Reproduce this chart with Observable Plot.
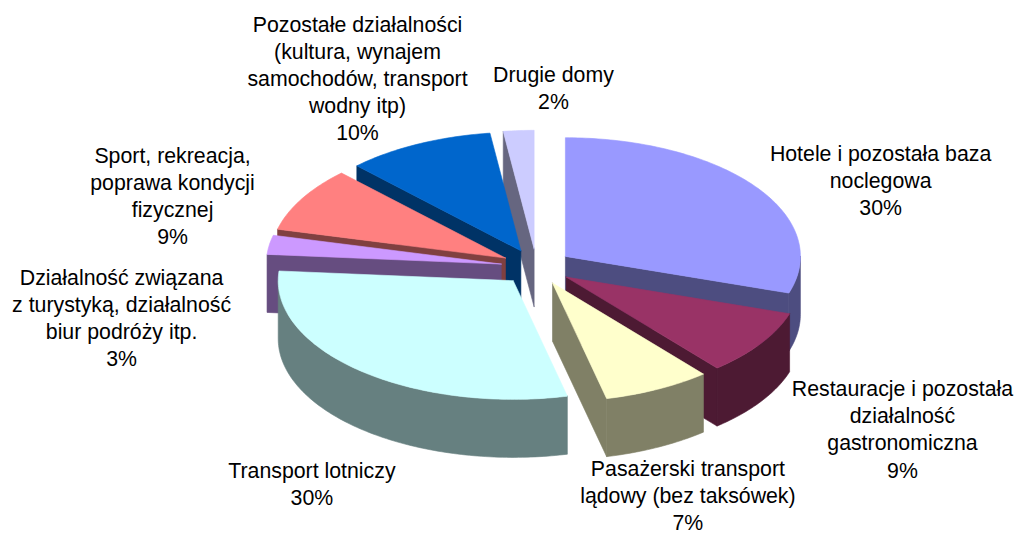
<!DOCTYPE html>
<html>
<head>
<meta charset="utf-8">
<script src="https://cdn.jsdelivr.net/npm/d3@7"></script>
<script src="https://cdn.jsdelivr.net/npm/@observablehq/plot@0.6"></script>
<style>html,body{margin:0;padding:0;background:#fff}svg{display:block}</style>
</head>
<body>
<div id="chart"></div>
<script>
const categories = ["Hotele","Restauracje","Pasazerski","Lotniczy","Dzialalnosc","Sport","Pozostale","Drugie"];
const shares = [30, 8.9, 7.4, 30, 2.6, 8.8, 10.2, 2.1];
const labels = [
  "Hotele i pozostała baza\nnoclegowa\n30%",
  "Restauracje i pozostała\ndziałalność\ngastronomiczna\n9%",
  "Pasażerski transport\nlądowy (bez taksówek)\n7%",
  "Transport lotniczy\n30%",
  "Działalność związana\nz turystyką, działalność\nbiur podróży itp.\n3%",
  "Sport, rekreacja,\npoprawa kondycji\nfizycznej\n9%",
  "Pozostałe działalności\n(kultura, wynajem\nsamochodów, transport\nwodny itp)\n10%",
  "Drugie domy\n2%"
];
const topColors  = ["#9999FF","#993366","#FFFFCC","#CCFFFF","#CC99FF","#FF8080","#0066CC","#CCCCFF"];
const sideColors = ["#4D4D80","#4D1A33","#808066","#668080","#664D80","#804040","#003366","#666680"];
const paintOrder = [7, 6, 0, 5, 4, 1, 2, 3];
// label anchors, in pie radii from the centre
const labelX = [1.460, 1.553, 0.640, -0.960, -1.770, -1.553, -0.766, 0.068];
const labelY = [-0.364, 0.695, 0.976, 0.925, 0.219, -0.300, -0.798, -0.760];

const TILT = 0.505, DEPTH = 0.247, EXPLODE = 0.152;
const rad = d => d * Math.PI / 180;
const total = d3.sum(shares);
let cum = 0;
const slices = shares.map((v, i) => {
  const a0 = cum / total * 360; cum += v;
  return {i, a0, a1: cum / total * 360};
});
const rows = [];
let faceId = 0;
function face(i, kind, pts) {
  const id = faceId++;
  const key = kind + i;
  [...pts, pts[0]].forEach(([x, y]) => rows.push({x, y, id, key}));
}
for (const i of paintOrder) {
  const {a0, a1} = slices[i];
  const mid = (a0 + a1) / 2;
  const ox = EXPLODE * Math.sin(rad(mid)), oy = -EXPLODE * TILT * Math.cos(rad(mid));
  const rim = a => [ox + Math.sin(rad(a)), oy - TILT * Math.cos(rad(a))];
  const down = ([x, y]) => [x, y + DEPTH];
  const apex = [ox, oy];
  if (Math.sin(rad(a0)) < 0) face(i, "s", [apex, rim(a0), down(rim(a0)), down(apex)]);
  if (Math.sin(rad(a1)) > 0) face(i, "s", [apex, rim(a1), down(rim(a1)), down(apex)]);
  const w0 = Math.max(a0, 90), w1 = Math.min(a1, 270);
  if (w1 > w0) {
    const arc = d3.range(w0, w1, 1).concat(w1).map(rim);
    face(i, "s", [...arc, ...arc.slice().reverse().map(down)]);
  }
  const arc = d3.range(a0, a1, 1).concat(a1).map(rim);
  face(i, "t", [apex, ...arc]);
}
const colorDomain = [...categories.map((_, i) => "t" + i), ...categories.map((_, i) => "s" + i)];
const colorRange = [...topColors, ...sideColors];

const R = 235, CX = 536, CY = 266.5, W = 1015, H = 533;
const plot = Plot.plot({
  width: W, height: H,
  marginTop: 0, marginRight: 0, marginBottom: 0, marginLeft: 0,
  x: {domain: [-CX / R, (W - CX) / R], range: [0, W], axis: null},
  y: {domain: [-CY / R, (H - CY) / R], range: [0, H], axis: null},
  color: {type: "ordinal", domain: colorDomain, range: colorRange},
  style: {background: "#fff", fontFamily: "'Liberation Sans', Arial, sans-serif"},
  marks: [
    Plot.line(rows, {x: "x", y: "y", z: "id", fill: "key", stroke: "key", strokeWidth: 0.6, curve: "linear"}),
    Plot.text(labels, {
      x: (d, i) => labelX[i], y: (d, i) => labelY[i], text: d => d, dy: -2, dx: 1,
      fontSize: 21.3, lineHeight: 1.27, fill: "#000", textAnchor: "middle"
    })
  ]
});
document.getElementById("chart").append(plot);
</script>
</body>
</html>
